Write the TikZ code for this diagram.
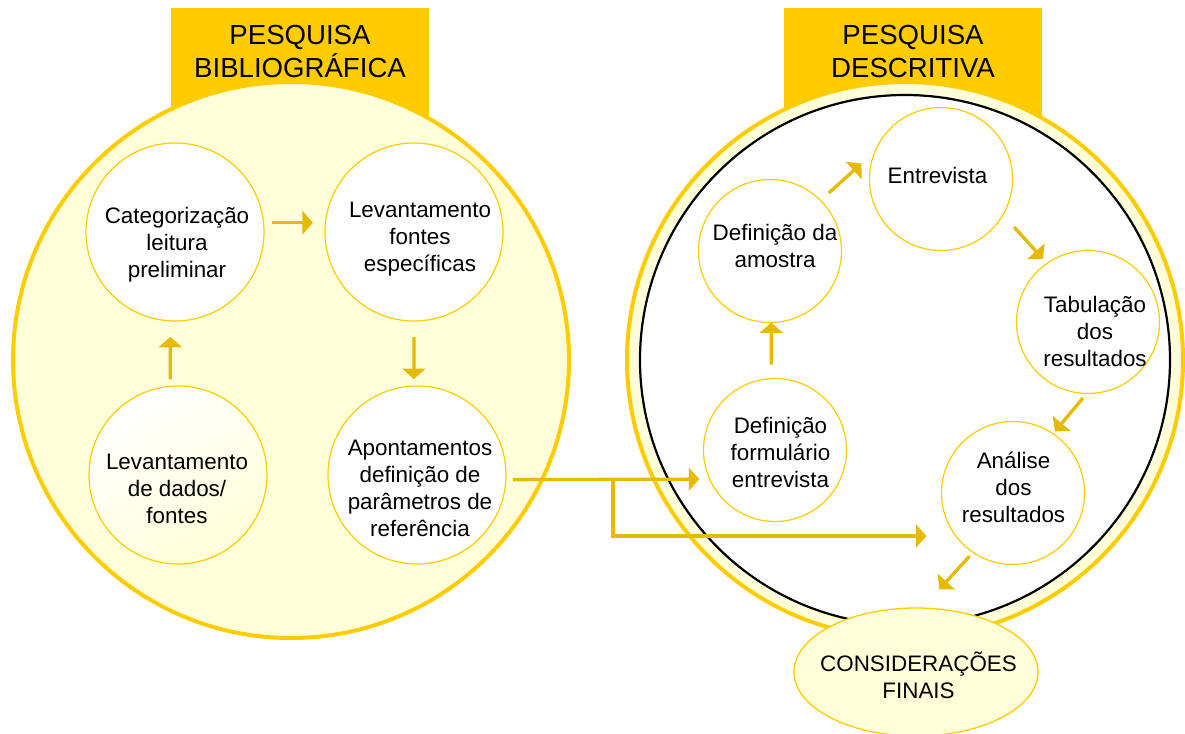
\documentclass[tikz,border=0pt]{standalone}
\usepackage{fontspec}
\setmainfont{Liberation Sans}
\usepackage{xcolor}
\usetikzlibrary{arrows.meta}
\usetikzlibrary{shapes.geometric}

\definecolor{ouro}{HTML}{FFCC00}
\definecolor{ambar}{HTML}{E6BA00}
\definecolor{creme}{HTML}{FFFFD9}

\begin{document}
\begin{tikzpicture}[x=1pt, y=-1pt,
    caixa/.style={fill=ouro, minimum width=258pt, minimum height=122pt, inner sep=0pt},
    bolha/.style={circle, draw=ouro, line width=1.2pt, fill=white, minimum size=178pt, inner sep=0pt, outer sep=0pt},
    bolhaD/.style={bolha, minimum size=143pt},
    titulo/.style={align=center, font=\fontsize{27.6}{33}\selectfont, inner sep=0pt},
    texto/.style={align=center, font=\fontsize{22.4}{27}\selectfont, inner sep=0pt},
    seta/.style={draw=ambar, line width=3.3pt, -{Triangle[width=23pt,length=10.5pt]}}]
    % Fond et cadre
    \fill[white] (0,0) rectangle (1185,733);
    \useasboundingbox (0,0) rectangle (1185,733);

    % Titres
    \node[caixa] (boxB) at (300,69) {};
    \node[caixa] (boxD) at (913,69) {};
    \node[titulo] (titB) at (300,51.5) {PESQUISA\\BIBLIOGRÁFICA};
    \node[titulo] (titD) at (913,51.5) {PESQUISA\\DESCRITIVA};

    % Grands cercles
    \node[circle, draw=ouro, line width=4pt, fill=creme, minimum size=556pt, inner sep=0pt] (bib) at (291,360) {};
    \node[circle, draw=ouro, line width=4pt, fill=creme, minimum size=556pt, inner sep=0pt] (desc) at (905,360) {};
    \node[circle, draw=black, line width=2.2pt, fill=white, minimum size=530pt, inner sep=0pt] (descin) at (905,360) {};

    % Nœuds de gauche
    \node[bolha] (cat) at (175,232) {};
    \node[bolha] (levF) at (414,232) {};
    \node[bolha, top color=white, bottom color=creme, shading angle=30] (dados) at (178,475) {};
    \node[bolha] (apont) at (417,475) {};
    \node[texto] (catT) at (177,245) {Categorização\\leitura\\preliminar};
    \node[texto] (levFT) at (420,239) {Levantamento\\fontes\\específicas};
    \node[texto] (dadosT) at (177,489) {Levantamento\\de dados/\\fontes};
    \node[texto] (apontT) at (420,488) {Apontamentos\\definição de\\parâmetros de\\referência};

    % Nœuds de droite
    \node[bolhaD] (amostra) at (770,251) {};
    \node[bolhaD] (entrev) at (941,179) {};
    \node[bolhaD] (tab) at (1088,322) {};
    \node[bolhaD] (analise) at (1013,493) {};
    \node[bolhaD] (form) at (775,450) {};
    \node[texto] (amostraT) at (775,245.5) {Definição da\\amostra};
    \node[texto] (entrevT) at (937.5,175) {Entrevista};
    \node[texto] (tabT) at (1095,331) {Tabulação\\dos\\resultados};
    \node[texto] (analiseT) at (1013.5,487) {Análise\\dos\\resultados};
    \node[texto] (formT) at (780.5,452) {Definição\\formulário\\entrevista};

    % Conclusion
    \node[ellipse, draw=ouro, line width=1.3pt, fill=creme, minimum width=244pt, minimum height=128pt, inner sep=0pt] (consid) at (916,672) {};
    \node[texto] (considT) at (918.5,675) {CONSIDERAÇÕES\\FINAIS};

    % Trajets
    \draw[seta, shorten <=7pt, shorten >=16pt] (dados.95) -- (cat.-93);
    \draw[seta, shorten <=8.5pt, shorten >=12.5pt] (cat.6) -- (levF.174);
    \draw[seta, shorten <=16pt, shorten >=7pt] (levF.-90) -- (apont.92);
    \draw[seta, shorten <=14pt] (form.93) -- (amostra.-89);
    \draw[seta, shorten <=11pt, shorten >=18.5pt] (amostra.45) -- (entrev.157);
    \draw[seta, shorten <=16.5pt, shorten >=6pt] (entrev.-30) -- (tab.125);
    \draw[seta, shorten <=6pt, shorten >=3pt] (tab.-91) -- (analise.56);
    \draw[seta, shorten <=5.3pt, shorten >=24.5pt] (analise.-124) -- (consid.84);

    % Liaison entre les deux recherches
    \coordinate (split) at (613,479.5);
    \draw[seta, shorten <=7pt, shorten >=10.4pt] (apont.-3) -- (form.204);
    \draw[seta, shorten >=29.5pt] (split) |- (analise.217);
\end{tikzpicture}
\end{document}
